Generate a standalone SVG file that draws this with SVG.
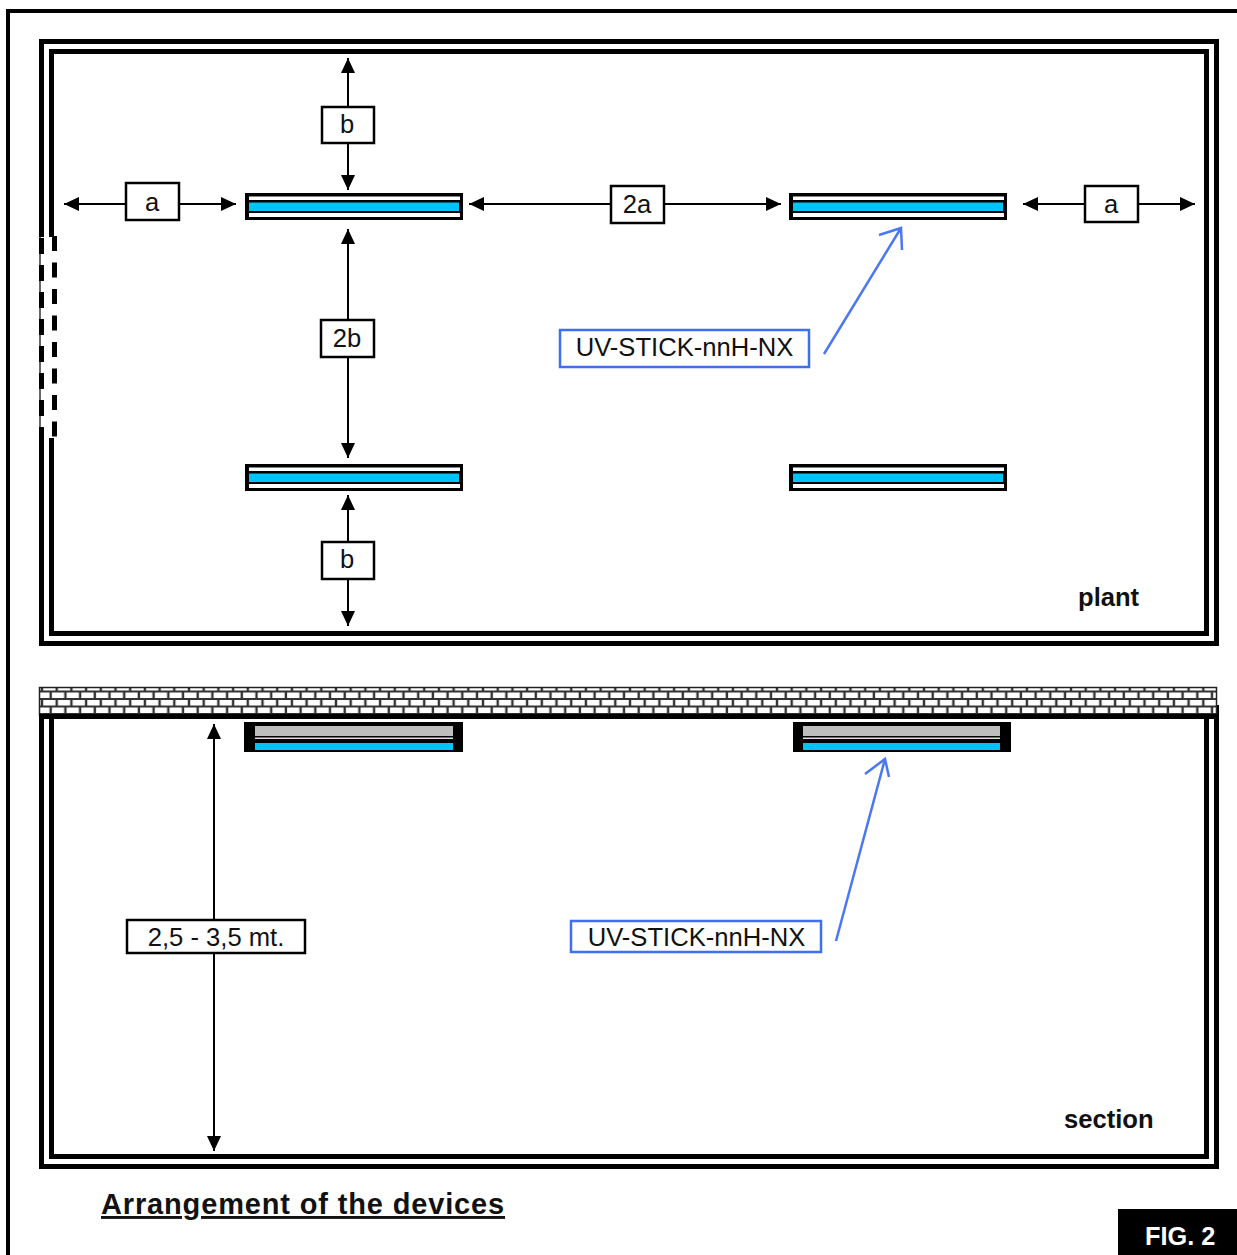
<svg xmlns="http://www.w3.org/2000/svg" width="1237" height="1255" viewBox="0 0 1237 1255">
<style>
text{font-family:"Liberation Sans",Arial,sans-serif;fill:#111}
.lb{font-size:25.6px;text-anchor:middle}
.bd{font-weight:bold;font-size:25.6px}
.box{fill:#fff;stroke:#000;stroke-width:2.5}
.bbox{fill:#fff;stroke:#3f6ef0;stroke-width:2.5}
.wall{fill:none;stroke:#000;stroke-width:5}
.ln{fill:none;stroke:#000;stroke-width:2}
.bl{fill:none;stroke:#4a78f5;stroke-width:2.500}
.bu{fill:#00c4f8}
.gr{fill:#bdbdbd}
</style>
<defs>
<marker id="ah" markerWidth="16" markerHeight="16" refX="15" refY="7" orient="auto-start-reverse" markerUnits="userSpaceOnUse"><path d="M0 0L15 7L0 14Z" fill="#000"/></marker>
<pattern id="brick" x="42" y="684" width="14.7" height="15" patternUnits="userSpaceOnUse">
<rect width="14.7" height="15" fill="#fff"/>
<path d="M0 0H14.7M0 7.500H14.7M0 15H14.7" stroke="#333" stroke-width="2"/>
<path d="M0 0V7.500M14.7 0V7.500M8.700 7.500V15" stroke="#333" stroke-width="2.400"/>
</pattern>
<g id="stick">
<rect width="218" height="27" fill="#000"/>
<rect x="4" y="3.500" width="211" height="20.500" fill="#fff"/>
<rect x="4" y="7" width="211" height="13" fill="#000"/>
<rect x="4" y="9.500" width="210" height="8.500" class="bu"/>
</g>
</defs>
<rect width="1237" height="1255" fill="#fff"/>
<path d="M8 1255V11H1237" class="wall" style="stroke-width:4"/>
<g id="plant-room">
<rect x="41.500" y="41.500" width="1175" height="602" class="wall"/>
<rect x="51.500" y="51.500" width="1155" height="582" class="wall"/>
</g>
<g id="door">
<rect x="38" y="237" width="20" height="201" fill="#fff"/>
<path d="M40 237V438" fill="none" stroke="#333" stroke-width="1.500"/>
<path d="M41.500 238V438" fill="none" stroke="#000" stroke-width="5" stroke-dasharray="16 11"/>
<path d="M54.500 236V438" fill="none" stroke="#000" stroke-width="5" stroke-dasharray="15 11.500"/>
</g>
<g id="section-room">
<path d="M41.500 714V1166.500H1216.500V705" class="wall"/>
<path d="M51.500 714V1156.500H1206.500V705" class="wall"/>
</g>
<g id="ceiling">
<rect x="39.500" y="687.500" width="1177" height="27" fill="url(#brick)" stroke="#222" stroke-width="1.500"/>
<rect x="39" y="714" width="1178" height="5" fill="#000"/>
</g>
<g id="stick-plan-1"><use href="#stick" x="245" y="193"/></g>
<g id="stick-plan-2"><use href="#stick" x="789" y="193"/></g>
<g id="stick-plan-3"><use href="#stick" x="245" y="464"/></g>
<g id="stick-plan-4"><use href="#stick" x="789" y="464"/></g>
<g id="stick-section-1">
<rect x="244" y="722" width="219" height="30" fill="#000"/>
<rect x="255" y="726" width="198" height="10" class="gr"/>
<rect x="255" y="737.500" width="198" height="1.500" fill="#ddd"/>
<rect x="255" y="743" width="198" height="7" class="bu"/>
</g>
<g id="stick-section-2">
<rect x="793" y="722" width="218" height="30" fill="#000"/>
<rect x="803" y="726" width="197" height="10" class="gr"/>
<rect x="803" y="737.500" width="197" height="1.500" fill="#ddd"/>
<rect x="803" y="743" width="197" height="7" class="bu"/>
</g>
<g id="connectors">
<path d="M348 58V190" class="ln" marker-start="url(#ah)" marker-end="url(#ah)"/>
<path d="M64 204H236" class="ln" marker-start="url(#ah)" marker-end="url(#ah)"/>
<path d="M469 204H781" class="ln" marker-start="url(#ah)" marker-end="url(#ah)"/>
<path d="M1023 204H1195" class="ln" marker-start="url(#ah)" marker-end="url(#ah)"/>
<path d="M348 229V458" class="ln" marker-start="url(#ah)" marker-end="url(#ah)"/>
<path d="M348 495V626" class="ln" marker-start="url(#ah)" marker-end="url(#ah)"/>
<path d="M214 724V1151" class="ln" marker-start="url(#ah)" marker-end="url(#ah)"/>
<path d="M824 354L901 228M879 235L901 228L902 250" class="bl"/>
<path d="M836 941L885 759M865 774L885 759L889 777" class="bl"/>
</g>
<g id="label-b-top"><rect x="322" y="107" width="52" height="36" class="box"/><text x="347" y="133" class="lb">b</text></g>
<g id="label-a-left"><rect x="126" y="183" width="53" height="37" class="box"/><text x="152" y="211" class="lb">a</text></g>
<g id="label-2a"><rect x="611" y="186" width="53" height="37" class="box"/><text x="637" y="213" class="lb">2a</text></g>
<g id="label-a-right"><rect x="1085" y="186" width="53" height="36" class="box"/><text x="1111" y="213" class="lb">a</text></g>
<g id="label-2b"><rect x="321" y="320" width="53" height="37" class="box"/><text x="347" y="347" class="lb">2b</text></g>
<g id="label-b-bottom"><rect x="322" y="542" width="52" height="37" class="box"/><text x="347" y="568" class="lb">b</text></g>
<g id="label-height"><rect x="127" y="920" width="178" height="33" class="box"/><text x="216" y="946" class="lb">2,5 - 3,5 mt.</text></g>
<g id="label-uv-plan"><rect x="560" y="330" width="249" height="37" class="bbox"/><text x="684.500" y="356" class="lb">UV-STICK-nnH-NX</text></g>
<g id="label-uv-section"><rect x="571" y="921" width="250" height="31" class="bbox"/><text x="696.500" y="946" class="lb">UV-STICK-nnH-NX</text></g>
<text x="1078" y="606" class="bd">plant</text>
<text x="1064" y="1128" class="bd">section</text>
<text x="101" y="1214" font-size="29" font-weight="bold" letter-spacing="0.850" text-decoration="underline">Arrangement of the devices</text>
<g id="fig-label"><rect x="1118" y="1209" width="119" height="46" fill="#000"/><text x="1145" y="1245" font-size="25.300" font-weight="bold" style="fill:#fff">FIG. 2</text></g>
</svg>
